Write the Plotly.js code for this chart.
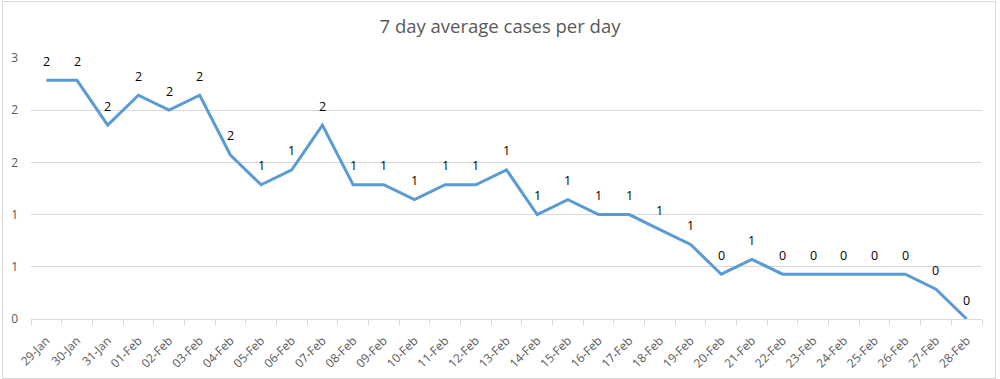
<!DOCTYPE html>
<html>
<head>
<meta charset="utf-8">
<script src="https://cdn.plot.ly/plotly-3.0.1.min.js"></script>
<style>
  html, body { margin: 0; padding: 0; background: #fff; }
  #wrap { position: relative; width: 1000px; height: 379px; }
  #chart { position: absolute; left: 0; top: 0; width: 1000px; height: 379px; }
  #frame { position: absolute; left: 2px; top: 1px; width: 992px; height: 376px; border: 1px solid #d9d9d9; pointer-events: none; }
</style>
</head>
<body>
<div id="wrap"><div id="chart"></div><div id="frame"></div></div>
<script>
const dates = ["29-Jan","30-Jan","31-Jan","01-Feb","02-Feb","03-Feb","04-Feb","05-Feb","06-Feb","07-Feb",
  "08-Feb","09-Feb","10-Feb","11-Feb","12-Feb","13-Feb","14-Feb","15-Feb","16-Feb","17-Feb",
  "18-Feb","19-Feb","20-Feb","21-Feb","22-Feb","23-Feb","24-Feb","25-Feb","26-Feb","27-Feb","28-Feb"];
const avgCases = [2.286, 2.286, 1.857, 2.143, 2.000, 2.143, 1.571, 1.286, 1.429, 1.857,
  1.286, 1.286, 1.143, 1.286, 1.286, 1.429, 1.000, 1.143, 1.000, 1.000,
  0.857, 0.714, 0.429, 0.571, 0.429, 0.429, 0.429, 0.429, 0.429, 0.286, 0.000];
const yTickVals = [0, 0.5, 1, 1.5, 2, 2.5];
const yTickText = ["0", "1", "1", "2", "2", "3"];

const annotations = dates.map((d, i) => ({
  x: d, y: avgCases[i], xref: 'x', yref: 'y',
  text: String(Math.round(avgCases[i])),
  showarrow: false, yshift: 19,
  font: { family: 'Open Sans, sans-serif', size: 12.5, color: '#000000' }
}));

const trace = {
  type: 'scatter', mode: 'lines',
  x: dates, y: avgCases,
  line: { color: '#5B9BD5', width: 3 },
  hoverinfo: 'x+y'
};

const layout = {
  width: 1000, height: 379,
  margin: { l: 31, r: 18, t: 58, b: 60 },
  paper_bgcolor: '#ffffff', plot_bgcolor: '#ffffff',
  showlegend: false,
  title: { text: '7 day average cases per day', x: 0.5, xanchor: 'center', y: 0.93, yanchor: 'middle',
    font: { family: 'Open Sans, sans-serif', size: 18.5, color: '#595959' } },
  xaxis: {
    type: 'category', tickangle: -45, range: [-0.5, dates.length - 0.5], autorange: false,
    showline: true, linecolor: '#d9d9d9', linewidth: 1,
    ticks: 'outside', tickson: 'boundaries', ticklen: 5, tickcolor: '#d9d9d9',
    showgrid: false, zeroline: false, automargin: false,
    ticklabelstandoff: 9,
    tickfont: { family: 'Open Sans, sans-serif', size: 12, color: '#595959' }
  },
  yaxis: {
    range: [0, 2.5], autorange: false, tickvals: yTickVals, ticktext: yTickText,
    showgrid: true, gridcolor: '#d9d9d9', gridwidth: 1,
    zeroline: false, showline: false, ticks: '', automargin: false,
    ticklabelstandoff: 12,
    tickfont: { family: 'Open Sans, sans-serif', size: 12, color: '#595959' }
  },
  annotations: annotations
};

Plotly.newPlot('chart', [trace], layout, { displayModeBar: false, staticPlot: true });
</script>
</body>
</html>
